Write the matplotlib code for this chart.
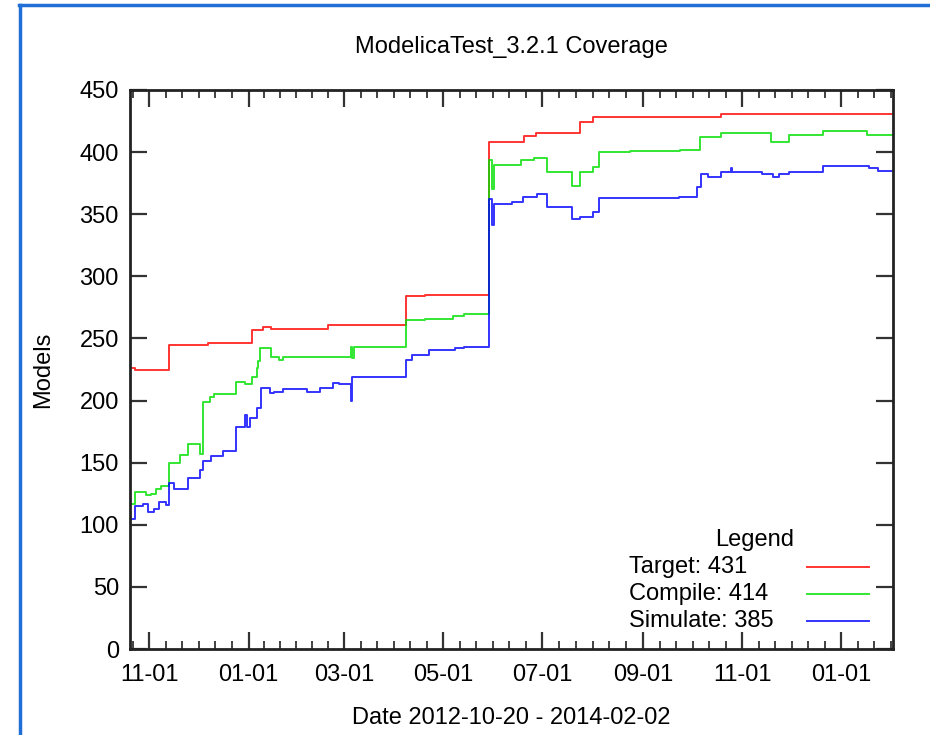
import matplotlib
matplotlib.use("Agg")
import matplotlib.pyplot as plt
from matplotlib.lines import Line2D
import pandas as pd

plt.rcParams['font.family'] = ['Liberation Sans', 'DejaVu Sans']

title = "ModelicaTest_3.2.1 Coverage"
x_label = "Date 2012-10-20 - 2014-02-02"
y_label = "Models"
legend_title = "Legend"
start_date = "2012-10-20"
end_date = "2014-02-02"

target_dates = ["2012-10-20", "2012-10-23", "2012-11-13", "2012-12-07", "2013-01-03",
                "2013-01-10", "2013-01-15", "2013-02-19", "2013-04-08", "2013-04-20",
                "2013-05-29", "2013-06-20", "2013-06-27", "2013-07-24", "2013-08-01",
                "2013-10-19", "2014-02-02"]
target_values = [226, 225, 245, 246, 257, 259, 258, 261, 284, 285,
                 408, 413, 415, 424, 428, 431, 431]

compile_dates = ["2012-10-20", "2012-10-23", "2012-10-30", "2012-11-02", "2012-11-05",
                 "2012-11-08", "2012-11-13", "2012-11-20", "2012-11-25", "2012-12-02",
                 "2012-12-04", "2012-12-08", "2012-12-11", "2012-12-24", "2012-12-30",
                 "2013-01-03", "2013-01-06", "2013-01-07", "2013-01-08", "2013-01-15",
                 "2013-01-20", "2013-01-22", "2013-03-05", "2013-03-06", "2013-03-07",
                 "2013-04-08", "2013-04-20", "2013-05-07", "2013-05-14", "2013-05-29",
                 "2013-05-31", "2013-06-01", "2013-06-18", "2013-06-26", "2013-07-04",
                 "2013-07-19", "2013-07-24", "2013-08-01", "2013-08-05", "2013-08-24",
                 "2013-09-24", "2013-10-06", "2013-10-19", "2013-11-19", "2013-11-30",
                 "2013-12-21", "2014-01-17", "2014-02-02"]
compile_values = [117, 126, 124, 125, 129, 131, 150, 156, 165, 157,
                  199, 203, 205, 215, 213, 219, 226, 232, 242, 235,
                  233, 235, 243, 234, 243, 265, 266, 268, 270, 394,
                  370, 390, 394, 395, 384, 373, 384, 388, 400, 401,
                  402, 412, 415, 408, 414, 417, 414, 414]

simulate_dates = ["2012-10-20", "2012-10-23", "2012-10-28", "2012-10-31", "2012-11-04",
                  "2012-11-07", "2012-11-11", "2012-11-13", "2012-11-16", "2012-11-25",
                  "2012-12-02", "2012-12-04", "2012-12-09", "2012-12-16", "2012-12-24",
                  "2012-12-30", "2012-12-31", "2013-01-02", "2013-01-06", "2013-01-09",
                  "2013-01-14", "2013-01-17", "2013-01-22", "2013-02-06", "2013-02-14",
                  "2013-02-22", "2013-02-26", "2013-03-05", "2013-03-06", "2013-04-08",
                  "2013-04-12", "2013-04-22", "2013-05-08", "2013-05-14", "2013-05-29",
                  "2013-05-31", "2013-06-01", "2013-06-12", "2013-06-19", "2013-06-28",
                  "2013-07-04", "2013-07-19", "2013-07-24", "2013-08-01", "2013-08-05",
                  "2013-09-23", "2013-10-04", "2013-10-07", "2013-10-11", "2013-10-19",
                  "2013-10-25", "2013-10-26", "2013-11-13", "2013-11-20", "2013-11-24",
                  "2013-11-30", "2013-12-21", "2014-01-18", "2014-01-24", "2014-02-02"]
simulate_values = [105, 115, 117, 110, 113, 118, 116, 134, 129, 138,
                   144, 151, 155, 159, 179, 188, 179, 186, 194, 210,
                   206, 207, 209, 207, 210, 214, 213, 200, 219, 233,
                   237, 241, 242, 243, 362, 341, 358, 360, 364, 366,
                   356, 346, 348, 352, 363, 364, 372, 382, 380, 384,
                   387, 384, 382, 380, 382, 384, 389, 387, 385, 385]

series_names = ["Target: 431", "Compile: 414", "Simulate: 385"]
series_colors = ["#ff0000", "#00e000", "#0000ff"]
y_ticks = [0, 50, 100, 150, 200, 250, 300, 350, 400, 450]
x_tick_dates = ["2012-11-01", "2013-01-01", "2013-03-01", "2013-05-01", "2013-07-01",
                "2013-09-01", "2013-11-01", "2014-01-01"]
x_tick_labels = ["11-01", "01-01", "03-01", "05-01", "07-01", "09-01", "11-01", "01-01"]

W, H = 930, 735
FS = 17

fig = plt.figure(figsize=(W / 100, H / 100), dpi=100)
ax = fig.add_axes([130 / W, 1 - 649 / H, 763 / W, 559 / H])

series = [(target_dates, target_values), (compile_dates, compile_values),
          (simulate_dates, simulate_values)]
for (d, v), name, c in zip(series, series_names, series_colors):
    ax.plot(pd.to_datetime(d), v, drawstyle='steps-post', color=c, lw=1.4,
            alpha=0.8, label=name)

ax.set_xlim(pd.Timestamp(start_date), pd.Timestamp(end_date))
ax.set_ylim(0, 450)

major = pd.to_datetime(x_tick_dates)
ax.set_xticks(major)
ax.set_xticklabels(x_tick_labels)
step = (major[1] - major[0]) / 6
minors = []
t = major[0] - step
while t > pd.Timestamp(start_date):
    minors.append(t)
    t -= step
for a, b in zip(major[:-1], major[1:]):
    st = (b - a) / 6
    for k in range(1, 6):
        minors.append(a + st * k)
t = major[-1] + step
while t < pd.Timestamp(end_date):
    minors.append(t)
    t += step
ax.set_xticks(minors, minor=True)

ax.set_yticks(y_ticks)
ax.tick_params(axis='both', which='major', direction='in', length=12, width=1.6,
               color='#333333', labelsize=FS, top=True, right=True)
ax.tick_params(axis='x', which='major', pad=11)
ax.tick_params(axis='y', which='major', pad=8)
ax.tick_params(axis='x', which='minor', direction='in', length=6, width=1.3,
               color='#333333', top=True)
for s in ax.spines.values():
    s.set_linewidth(2)
    s.set_color('#222222')

ax.set_title(title, fontsize=FS, pad=27)
ax.set_xlabel(x_label, fontsize=FS, labelpad=15)
ax.set_ylabel(y_label, fontsize=FS, labelpad=18)

# legend, drawn as text and line samples (gnuplot-style key)
fig.text(755 / W, 1 - 540 / H, legend_title, fontsize=FS, ha='center', va='center')
for i, (name, c) in enumerate(zip(series_names, series_colors)):
    yy = 1 - (567 + 27 * i) / H
    fig.text(629 / W, yy, name, fontsize=FS, ha='left', va='center')
    fig.add_artist(Line2D([807 / W, 869 / W], [yy, yy], color=c, lw=1.4, alpha=0.8,
                          transform=fig.transFigure))

# screenshot frame
frame_color = '#1f6fd6'
fig.add_artist(Line2D([20 / W, 20 / W], [0, 1 - 5 / H], color=frame_color,
                      lw=2.5, transform=fig.transFigure))
fig.add_artist(Line2D([19 / W, 1], [1 - 5 / H, 1 - 5 / H], color=frame_color,
                      lw=2.5, transform=fig.transFigure))

fig.savefig("out.png", dpi=100)
